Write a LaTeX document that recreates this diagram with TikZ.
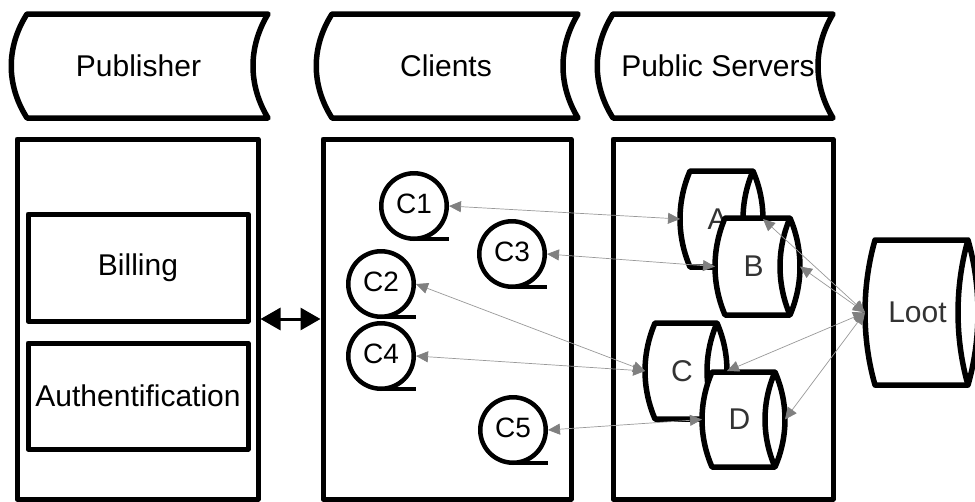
\documentclass[tikz,border=0pt]{standalone}
\usepackage{fontspec}
\setmainfont{Liberation Sans}
\usetikzlibrary{arrows.meta}

% stored-data header: convex left side, concave right side
\newcommand\header[6]{% name, x left, x right, label x, label
  \draw[shapeline, fill=white] (#2,14) -- (#3,14)
    .. controls ({#3-20},47) and ({#3-20},85) .. (#3,118)
    -- (#2,118)
    .. controls ({#2-21},85) and ({#2-21},47) .. (#2,14) -- cycle;
  \node[bigtext] (#1) at (#4,66) {#5};
}

% direct-access storage drum: name, x left, x right, y top, y bottom, label
\newcommand\drum[6]{%
  \pgfmathsetmacro\dq{(#5-#4)*0.32}
  \draw[shapeline, fill=white] (#2,#4) -- (#3,#4)
    .. controls ({#3+13.3},{#4+\dq}) and ({#3+13.3},{#5-\dq}) .. (#3,#5)
    -- (#2,#5)
    .. controls ({#2-13.3},{#5-\dq}) and ({#2-13.3},{#4+\dq}) .. (#2,#4) -- cycle;
  \draw[shapeline] (#3,#4)
    .. controls ({#3-13.3},{#4+\dq}) and ({#3-13.3},{#5-\dq}) .. (#3,#5);
  \node[drumtext] (#1) at ({(#2+#3)/2-4},{(#4+#5)/2}) {#6};
  \coordinate (#1-w) at ({#2-10},{(#4+#5)/2});
  \coordinate (#1-e) at ({#3+10},{(#4+#5)/2});
}

\begin{document}
\begin{tikzpicture}[x=1pt,y=-1pt,
  shapeline/.style={line width=5.5pt, line join=round},
  bigtext/.style={inner sep=0pt, font=\fontsize{30}{35}\selectfont},
  drumtext/.style={bigtext, text=black!80},
  panel/.style={draw, line width=5pt, line join=round, inner sep=0pt, fill=white,
    minimum height=360pt},
  box/.style={draw, line width=5pt, line join=round, inner sep=0pt,
    minimum width=220pt, font=\fontsize{30}{35}\selectfont},
  tape/.style={circle, draw, line width=4.5pt, inner sep=0pt, minimum size=65.5pt},
  tapetext/.style={inner sep=0pt, font=\fontsize{28}{32}\selectfont},
  tapetail/.style={line width=4.5pt},
  biarrow/.style={line width=3pt,
    {Triangle[length=20pt,width=22pt]}-{Triangle[length=20pt,width=22pt]}},
  link/.style={draw=black!40, line width=0.7pt,
    {Triangle[length=12pt,width=11pt,color=black!50]}-{Triangle[length=12pt,width=11pt,color=black!50]}}]

\useasboundingbox (0,0) rectangle (975,501);
\clip (0,0) rectangle (975,501);

% column headers
\header{hpub}{27}{268}{138.5}{Publisher}{}
\header{hcli}{332}{578}{446}{Clients}{}
\header{hsrv}{613}{833}{718}{Public Servers}{}

% column panels
\node[panel, minimum width=241pt] (pub) at (137.5,319) {};
\node[panel, minimum width=248pt] (cli) at (447,319) {};
\node[panel, minimum width=220pt] (srv) at (723,319) {};

% publisher services
\node[box, minimum height=107pt] (billing) at (138,267.5) {Billing};
\node[box, minimum height=106pt] (auth) at (138,396) {Authentification};

\draw[biarrow] (pub.east) -- (cli.west);

% clients
\foreach \n/\x/\y in {c1/414/206, c3/512/254, c2/381/284, c4/381/356, c5/513/430}{
  \node[tape] (\n) at (\x,\y) {};
  \draw[tapetail] (\n.center) ++(0,32.75) -- ++(35,0);
}
\node[tapetext] (t1) at ([yshift=2pt]c1.center) {C1};
\node[tapetext] (t2) at ([yshift=2pt]c2.center) {C2};
\node[tapetext] (t3) at ([yshift=2pt]c3.center) {C3};
\node[tapetext] (t4) at ([yshift=2pt]c4.center) {C4};
\node[tapetext] (t5) at ([yshift=2pt]c5.center) {C5};

% servers
\drum{A}{690}{753}{171}{267}{A}
\drum{B}{725}{790}{218}{315}{B}
\drum{C}{655}{717}{323}{419}{C}
\drum{D}{712}{775}{372}{467}{D}
\drum{L}{875}{968}{240}{385}{Loot}

% links
\draw[link] (c1.east) -- (A-w);
\draw[link] (c3.east) -- (B-w);
\draw[link] (c2.east) -- (C-w);
\draw[link] (c4.east) -- (C-w);
\draw[link] (c5.east) -- (D-w);
\draw[link] (L-w) -- (A-e);
\draw[link] (L-w) -- (B-e);
\draw[link] (L-w) -- (C-e);
\draw[link] (L-w) -- (D-e);
\end{tikzpicture}
\end{document}
